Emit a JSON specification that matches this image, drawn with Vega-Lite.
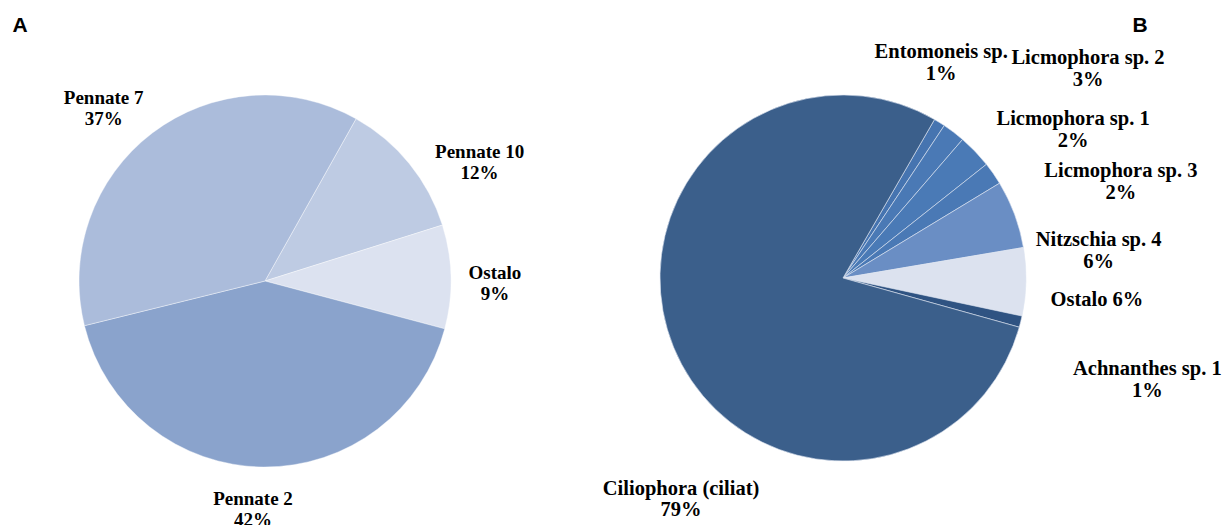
{
  "$schema": "https://vega.github.io/schema/vega-lite/v6.json",
  "width": 1223,
  "height": 525,
  "autosize": {"type": "fit", "contains": "padding"},
  "padding": 0,
  "background": "white",
  "config": {"view": {"stroke": null}},
  "layer": [
    {
      "data": {"values": [
        {"name": "Pennate 10", "value": 12, "k": 1},
        {"name": "Ostalo", "value": 9, "k": 2},
        {"name": "Pennate 2", "value": 42, "k": 3},
        {"name": "Pennate 7", "value": 37, "k": 4}
      ]},
      "transform": [{"calculate": "datum.name + '\\n' + datum.value + '%'", "as": "label"}],
      "encoding": {
        "theta": {"field": "value", "type": "quantitative", "stack": true, "scale": {"range": [0.5114, 6.7946]}},
        "order": {"field": "k", "type": "quantitative"},
        "detail": {"field": "name"}
      },
      "layer": [
        {
          "mark": {"type": "arc", "x": 265, "y": 281, "outerRadius": 186, "stroke": "white", "strokeWidth": 0.4},
          "encoding": {
            "color": {"field": "name", "type": "nominal", "legend": null,
              "scale": {"domain": ["Pennate 10", "Ostalo", "Pennate 2", "Pennate 7"], "range": ["#BECBE3", "#DCE2F0", "#8AA3CC", "#ABBCDB"]}}
          }
        },
        {
          "mark": {"type": "text", "x": 265, "y": 281, "radius": 225, "dx": 40, "dy": 13, "font": "Liberation Serif", "fontWeight": "bold", "fontSize": 19, "lineBreak": "\n", "lineHeight": 21, "align": "center", "baseline": "middle", "color": "black"},
          "encoding": {"text": {"condition": {"test": "datum.name === 'Pennate 10'", "field": "label"}, "value": ""}}
        },
        {
          "mark": {"type": "text", "x": 265, "y": 281, "radius": 225, "dx": 5, "dy": -3, "font": "Liberation Serif", "fontWeight": "bold", "fontSize": 19, "lineBreak": "\n", "lineHeight": 21, "align": "center", "baseline": "middle", "color": "black"},
          "encoding": {"text": {"condition": {"test": "datum.name === 'Ostalo'", "field": "label"}, "value": ""}}
        },
        {
          "mark": {"type": "text", "x": 265, "y": 281, "radius": 225, "dx": -10, "dy": -7, "font": "Liberation Serif", "fontWeight": "bold", "fontSize": 19, "lineBreak": "\n", "lineHeight": 21, "align": "center", "baseline": "middle", "color": "black"},
          "encoding": {"text": {"condition": {"test": "datum.name === 'Pennate 2'", "field": "label"}, "value": ""}}
        },
        {
          "mark": {"type": "text", "x": 265, "y": 281, "radius": 225, "dx": -25, "dy": -4, "font": "Liberation Serif", "fontWeight": "bold", "fontSize": 19, "lineBreak": "\n", "lineHeight": 21, "align": "center", "baseline": "middle", "color": "black"},
          "encoding": {"text": {"condition": {"test": "datum.name === 'Pennate 7'", "field": "label"}, "value": ""}}
        }
      ]
    },
    {
      "data": {"values": [
        {"name": "Entomoneis sp.", "value": 1, "k": 1},
        {"name": "Licmophora sp. 1", "value": 2, "k": 2},
        {"name": "Licmophora sp. 2", "value": 3, "k": 3},
        {"name": "Licmophora sp. 3", "value": 2, "k": 4},
        {"name": "Nitzschia sp. 4", "value": 6, "k": 5},
        {"name": "Ostalo", "value": 6, "k": 6},
        {"name": "Achnanthes sp. 1", "value": 1, "k": 7},
        {"name": "Ciliophora (ciliat)", "value": 79, "k": 8}
      ]},
      "transform": [{"calculate": "datum.name === 'Ostalo' ? datum.name + ' ' + datum.value + '%' : datum.name + '\\n' + datum.value + '%'", "as": "label"}],
      "encoding": {
        "theta": {"field": "value", "type": "quantitative", "stack": true, "scale": {"range": [0.5236, 6.8068]}},
        "order": {"field": "k", "type": "quantitative"},
        "detail": {"field": "name"}
      },
      "layer": [
        {
          "mark": {"type": "arc", "x": 843, "y": 278, "outerRadius": 183, "stroke": "#dfe6f2", "strokeWidth": 0.6},
          "encoding": {
            "color": {"field": "name", "type": "nominal", "legend": null,
              "scale": {"domain": ["Entomoneis sp.", "Licmophora sp. 1", "Licmophora sp. 2", "Licmophora sp. 3", "Nitzschia sp. 4", "Ostalo", "Achnanthes sp. 1", "Ciliophora (ciliat)"],
                        "range": ["#4674B0", "#4A79B5", "#4A7AB6", "#4A79B5", "#6A8EC4", "#DCE2EF", "#2F5382", "#3B5F8B"]}}
          }
        },
        {
          "mark": {"type": "text", "x": 843, "y": 278, "radius": 230, "dx": -23, "dy": -31, "font": "Liberation Serif", "fontWeight": "bold", "fontSize": 20.5, "lineBreak": "\n", "lineHeight": 22.5, "align": "center", "baseline": "middle", "color": "black"},
          "encoding": {"text": {"condition": {"test": "datum.name === 'Entomoneis sp.'", "field": "label"}, "value": ""}}
        },
        {
          "mark": {"type": "text", "x": 843, "y": 278, "radius": 230, "dx": 91, "dy": 24, "font": "Liberation Serif", "fontWeight": "bold", "fontSize": 20.5, "lineBreak": "\n", "lineHeight": 22.5, "align": "center", "baseline": "middle", "color": "black"},
          "encoding": {"text": {"condition": {"test": "datum.name === 'Licmophora sp. 1'", "field": "label"}, "value": ""}}
        },
        {
          "mark": {"type": "text", "x": 843, "y": 278, "radius": 230, "dx": 79, "dy": -61, "font": "Liberation Serif", "fontWeight": "bold", "fontSize": 20.5, "lineBreak": "\n", "lineHeight": 22.5, "align": "center", "baseline": "middle", "color": "black"},
          "encoding": {"text": {"condition": {"test": "datum.name === 'Licmophora sp. 2'", "field": "label"}, "value": ""}}
        },
        {
          "mark": {"type": "text", "x": 843, "y": 278, "radius": 230, "dx": 89, "dy": 24, "font": "Liberation Serif", "fontWeight": "bold", "fontSize": 20.5, "lineBreak": "\n", "lineHeight": 22.5, "align": "center", "baseline": "middle", "color": "black"},
          "encoding": {"text": {"condition": {"test": "datum.name === 'Licmophora sp. 3'", "field": "label"}, "value": ""}}
        },
        {
          "mark": {"type": "text", "x": 843, "y": 278, "radius": 230, "dx": 40, "dy": 42, "font": "Liberation Serif", "fontWeight": "bold", "fontSize": 20.5, "lineBreak": "\n", "lineHeight": 22.5, "align": "center", "baseline": "middle", "color": "black"},
          "encoding": {"text": {"condition": {"test": "datum.name === 'Nitzschia sp. 4'", "field": "label"}, "value": ""}}
        },
        {
          "mark": {"type": "text", "x": 843, "y": 278, "radius": 230, "dx": 24, "dy": 17, "font": "Liberation Serif", "fontWeight": "bold", "fontSize": 20.5, "lineBreak": "\n", "lineHeight": 22.5, "align": "center", "baseline": "middle", "color": "black"},
          "encoding": {"text": {"condition": {"test": "datum.name === 'Ostalo'", "field": "label"}, "value": ""}}
        },
        {
          "mark": {"type": "text", "x": 843, "y": 278, "radius": 230, "dx": 81, "dy": 36, "font": "Liberation Serif", "fontWeight": "bold", "fontSize": 20.5, "lineBreak": "\n", "lineHeight": 22.5, "align": "center", "baseline": "middle", "color": "black"},
          "encoding": {"text": {"condition": {"test": "datum.name === 'Achnanthes sp. 1'", "field": "label"}, "value": ""}}
        },
        {
          "mark": {"type": "text", "x": 843, "y": 278, "radius": 230, "dx": 51, "dy": 124, "font": "Liberation Serif", "fontWeight": "bold", "fontSize": 20.5, "lineBreak": "\n", "lineHeight": 21.5, "align": "center", "baseline": "middle", "color": "black"},
          "encoding": {"text": {"condition": {"test": "datum.name === 'Ciliophora (ciliat)'", "field": "label"}, "value": ""}}
        }
      ]
    },
    {
      "data": {"values": [{"panel": "A"}]},
      "mark": {"type": "text", "x": 20, "y": 26, "font": "Liberation Sans", "fontWeight": "bold", "fontSize": 21, "align": "center", "baseline": "middle", "color": "black"},
      "encoding": {"text": {"field": "panel"}}
    },
    {
      "data": {"values": [{"panel": "B"}]},
      "mark": {"type": "text", "x": 1140, "y": 26, "font": "Liberation Sans", "fontWeight": "bold", "fontSize": 21, "align": "center", "baseline": "middle", "color": "black"},
      "encoding": {"text": {"field": "panel"}}
    }
  ],
  "resolve": {"scale": {"theta": "independent", "color": "independent"}}
}
